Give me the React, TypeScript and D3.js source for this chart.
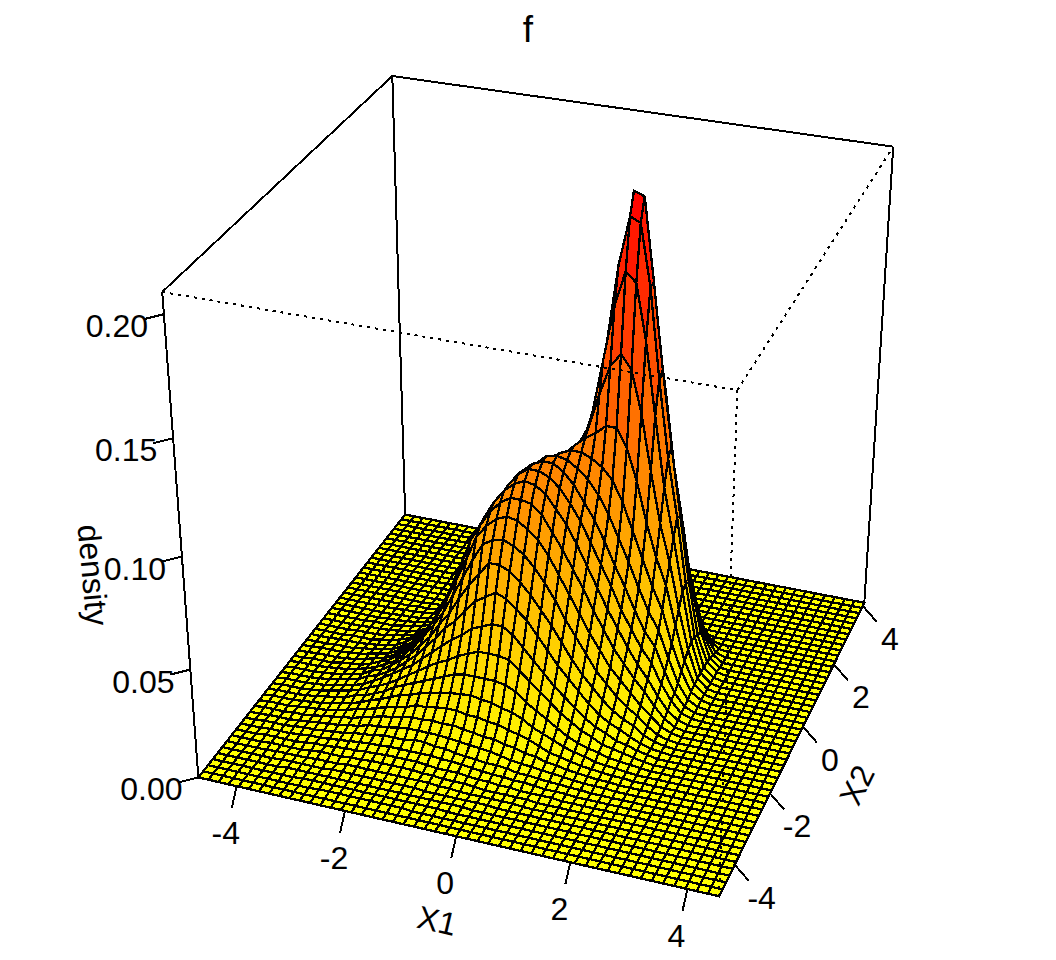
import React from "react";
import * as d3 from "d3";

const title = "f";
const x1Limits = [-4.72, 4.53];
const x2Limits = [-4.84, 4.11];
const zLimits = [0, 0.2087];
const x1Ticks = [-4, -2, 0, 2, 4];
const x2Ticks = [-4, -2, 0, 2, 4];
const zTicks = [0, 0.05, 0.1, 0.15, 0.2];
const gridSize = 50;

// Box calibration: [u, v, w] of each box corner and where it sits in the picture.
const boxCalibration = [
  [0, 0, 0, 198, 776], [1, 0, 0, 720, 897], [1, 1, 0, 864, 602], [0, 1, 0, 405, 516],
  [0, 0, 1, 162, 293], [1, 0, 1, 737, 390], [1, 1, 1, 893, 147], [0, 1, 1, 393, 75],
];

// Density, in thousandths; one row per X2 grid line, one entry per X1 grid line.
// Entries missing at the end of a row are 0.
const densityMilli: number[][] = [
[],
[],
[0,0,0,0,0,0,0,0,0,0,0,.5,.5,.5,.5,.5,.5,.5,.5,.5],
[0,0,0,0,0,0,0,0,0,.5,.5,.5,.5,.5,.5,.5,.5,.5,.5,.5,.5,.5,.5],
[0,0,0,0,0,0,0,.5,.5,.5,.5,.5,.5,.5,.5,.5,.5,.5,.5,.5,.5,.5,.5,.5,.5],
[0,0,0,0,0,0,.5,.5,.5,.5,.5,1,1,1,1,1,1,1,1,1,.5,.5,.5,.5,.5,.5,.5],
[0,0,0,0,0,.5,.5,.5,.5,1,1,1,1.5,1.5,1.5,1.5,1.5,1.5,1.5,1.5,1.5,1,1,.5,.5,.5,.5,.5,.5],
[0,0,0,0,.5,.5,.5,.5,1,1.5,1.5,1.5,2,2,2.5,2.5,2.5,2.5,2.5,2,2,1.5,1.5,1.5,1,.5,.5,.5,.5,.5],
[0,0,0,.5,.5,.5,.5,1,1.5,1.5,2,2.5,2.5,3,3,3.5,3.5,3.5,3.5,3,2.5,2.5,2.5,2,1.5,1.5,1,1,.5,.5,.5,.5],
[0,0,0,.5,.5,.5,1,1.5,1.5,2,2.5,3,3.5,4,4,4.5,4.5,4.5,4.5,4.5,4,4,3.5,3,2.5,2,2,1.5,1.5,1,.5,.5,.5],
[0,0,.5,.5,.5,1,1.5,1.5,2,2.5,3,4,4.5,5,6,6,6,7,7,6,6,5,4.5,4,3.5,3.5,3,2,2,1.5,1,1,.5,.5],
[0,0,.5,.5,.5,1,1.5,2,2.5,3,4,4.5,6,6.5,7,8,8.5,8.5,8.5,8.5,8,7.5,7,6.5,6,5,4,3.5,3,2.5,2,1.5,1,.5,.5,.5],
[0,.5,.5,.5,1,1,1.5,2.5,3,4,4.5,6,7,8.5,9,10,11,11,11.5,11,11.5,10.5,10,9,9,7.5,7,5.5,5,3.5,3,2,1.5,1,.5,.5],
[0,.5,.5,.5,1,1.5,2,2.5,3.5,4.5,6,7,8.5,10,11,12,14,14,15,15.5,15.5,14.5,14.5,13.5,13,11.5,10.5,9,7,5,4,3,2,1.5,1,.5,.5],
[0,.5,.5,.5,1,1.5,2,3,4,5,6.5,8.5,10,12,14,15,17,18,19,20,20.5,21,20,19.5,18,17,15,12,10,8,6,4.5,3.5,2,1.5,1,.5],
[0,.5,.5,.5,1,1.5,2.5,3,4,6,7,9,11,14,16,18,20,22,24,26,27,27,27,27,26,24,20,17,14,11,8,6,4.5,3.5,2,1.5,1,.5],
[0,.5,.5,.5,1,1.5,2.5,3.5,4.5,6,8,10,12,15,18,21,24,27,29,32,34,36,36,36,35,31,27,23,19,15,12,9,7,4.5,3.5,2.5,1.5,.5],
[0,.5,.5,.5,1,1.5,2.5,3.5,4.5,6,8.5,11,14,17,20,24,28,32,36,39,43,45,47,47,44,39,34,29,24,20,16,12,9,7,4.5,3.5,2,1],
[0,.5,.5,.5,1,1.5,2.5,3.5,4.5,7,8.5,11,14,18,22,27,32,38,42,48,53,56,59,57,53,49,43,37,31,26,21,16,12,9,7,4.5,2.5,1,.5],
[0,.5,.5,.5,1,1.5,2.5,3.5,4.5,7,8.5,11.5,15,19,24,29,36,42,50,57,63,69,69,67,63,58,52,46,39,32,26,21,16,12,9,7,3.5,1.5,.5],
[0,.5,.5,.5,1,1.5,2,3,4.5,6,8.5,11,15.5,20,26,32,39,48,57,66,74,77,78,76,73,68,62,55,47,40,33,26,21,16,12,9,5,2,.5],
[0,0,.5,.5,.5,1.5,2,2.5,4,6,8,11.5,15.5,20.5,27,34,43,53,63,74,80,84,86,85,82,78,72,64,56,48,40,33,26,21,16,11,7,3,1],
[0,0,.5,.5,.5,1,1.5,2.5,4,5,7.5,10.5,14.5,21,27,36,45,56,69,77,84,89,92,92,91,87,80,73,65,57,48,40,32,26,20,15,9,4,1],
[0,0,.5,.5,.5,1,1.5,2.5,3.5,4.5,7,10,14.5,20,27,36,47,59,69,78,86,92,96,98,97,94,88,82,74,65,56,47,39,31,24,18,11,5,1.5],
[0,0,0,.5,.5,.5,1.5,2,3,4,6.5,9,13.5,19.5,27,36,47,57,67,76,85,92,98,101,101,99,95,89,82,73,64,55,45,37,29,23,14,7,2,.5],
[0,0,0,.5,.5,.5,1,1.5,2.5,3.5,6,9,13,18,26,35,44,53,63,73,82,91,97,101,103,103,100,95,88,81,72,62,53,43,34,28,17,8,2.5,.5],
[0,0,0,0,.5,.5,.5,1.5,2,3.5,5,7.5,11.5,17,24,31,39,49,58,68,78,87,94,99,103,104,103,100,96,90,82,72,62,51,41,33,21,10,3,.5],
[0,0,0,0,.5,.5,.5,1,2,3,4,7,10.5,15,20,27,34,43,52,62,72,80,88,95,100,103,105,105,103,100,95,86,74,62,50,40,25,13,4,1],
[0,0,0,0,0,.5,.5,1,1.5,2,3.5,5.5,9,12,17,23,29,37,46,55,64,73,82,89,95,100,105,109,112,116,116,108,94,76,61,49,31,15,5,1],
[0,0,0,0,0,.5,.5,.5,1.5,2,3,5,7,10,14,19,24,31,39,47,56,65,74,82,88,96,103,112,127,140,146,140,122,97,74,57,36,18,5,1],
[0,0,0,0,0,0,.5,.5,1,1.5,2.5,3.5,5,8,11,15,20,26,32,40,48,57,65,73,81,90,100,116,140,164,179,175,151,119,88,66,42,19,5,1],
[0,0,0,0,0,0,0,.5,.5,1,2,3,4,6,8,12,16,21,26,33,40,48,56,64,72,82,95,116,146,179,200,198,172,133,99,73,43,19,5,1],
[0,0,0,0,0,0,0,.5,.5,1,1.5,2,3,4.5,6,9,12,16,21,26,33,40,47,55,62,72,86,108,140,175,208.7,207,172,135,102,71,41,17,5,1],
[0,0,0,0,0,0,0,0,.5,.5,1,1.5,2,3.5,4.5,7,9,12,16,21,26,32,39,45,53,62,74,94,122,151,172,172,153,124,90,64,36,16,4,.5],
[0,0,0,0,0,0,0,0,0,.5,.5,1,1.5,2,3.5,4.5,7,9,12,16,21,26,31,37,43,51,62,76,97,119,133,135,124,100,73,51,29,12,3],
[0,0,0,0,0,0,0,0,0,0,.5,.5,1,1.5,2,3.5,4.5,7,9,12,16,20,24,29,34,41,50,61,74,88,99,102,90,73,60,41,22,8,1.5],
[0,0,0,0,0,0,0,0,0,0,.5,.5,.5,1,1.5,2.5,3.5,4.5,7,9,11,15,18,23,28,33,40,49,57,66,73,71,64,51,41,28,14,4,.5],
[0,0,0,0,0,0,0,0,0,0,0,0,.5,.5,1,1.5,2,2.5,3.5,5,7,9,11,14,17,21,25,31,36,42,43,41,36,29,22,14,6,1],
[0,0,0,0,0,0,0,0,0,0,0,0,0,0,.5,.5,1,1,1.5,2,3,4,5,7,8,10,13,15,18,19,19,17,16,12,8,4,1],
[0,0,0,0,0,0,0,0,0,0,0,0,0,0,0,0,0,.5,.5,.5,1,1,1.5,2,2.5,3,4,5,5,5,5,5,4,3,1.5,.5],
[0,0,0,0,0,0,0,0,0,0,0,0,0,0,0,0,0,0,0,0,0,0,0,.5,.5,.5,1,1,1,1,1,1,.5],
];

const FONT = "'Liberation Sans', Arial, sans-serif";
const FS = 32;
const TITLE_FS = 37;
const LW = 2;
const MESH_LW = 2.3;

function solveProjection(rows: number[][]) {
  const A: number[][] = [];
  const b: number[] = [];
  for (const [X, Y, Z, px, py] of rows) {
    const x = px / 1000, y = py / 1000;
    A.push([X, Y, Z, 1, 0, 0, 0, 0, -x * X, -x * Y, -x * Z]); b.push(x);
    A.push([0, 0, 0, 0, X, Y, Z, 1, -y * X, -y * Y, -y * Z]); b.push(y);
  }
  const n = 11;
  const M = d3.range(n).map((r) =>
    d3.range(n + 1).map((c) =>
      c < n ? d3.sum(A, (row) => row[r] * row[c]) : d3.sum(A, (row, k) => row[r] * b[k])
    )
  );
  for (let c = 0; c < n; c++) {
    let piv = c;
    for (let r = c + 1; r < n; r++) if (Math.abs(M[r][c]) > Math.abs(M[piv][c])) piv = r;
    [M[c], M[piv]] = [M[piv], M[c]];
    for (let r = 0; r < n; r++) {
      if (r === c) continue;
      const f = M[r][c] / M[c][c];
      for (let k = c; k <= n; k++) M[r][k] -= f * M[c][k];
    }
  }
  return d3.range(n).map((r) => M[r][n] / M[r][r]);
}

const P = solveProjection(boxCalibration);
const project = (u: number, v: number, w: number): [number, number] => {
  const d = P[8] * u + P[9] * v + P[10] * w + 1;
  return [
    (1000 * (P[0] * u + P[1] * v + P[2] * w + P[3])) / d,
    (1000 * (P[4] * u + P[5] * v + P[6] * w + P[7])) / d,
  ];
};

const uScale = d3.scaleLinear().domain(x1Limits).range([0, 1]);
const vScale = d3.scaleLinear().domain(x2Limits).range([0, 1]);
const wScale = d3.scaleLinear().domain(zLimits).range([0, 1]);
const gridPos = d3.scaleLinear().domain([0, gridSize - 1]).range([0, 1]);
const colour = d3.scaleLinear<string>().domain(zLimits).range(["#ffff00", "#ff0000"]);

const zAt = (i: number, j: number) => ((densityMilli[j] && densityMilli[j][i]) || 0) / 1000;
const surfacePoint = (i: number, j: number) => project(gridPos(i), gridPos(j), wScale(zAt(i, j)));

const line = d3.line();

export default function App() {
  const facets: { d: string; fill: string }[] = [];
  for (let i = 0; i < gridSize - 1; i++) {
    for (let j = gridSize - 2; j >= 0; j--) {
      const pts = [surfacePoint(i, j), surfacePoint(i + 1, j), surfacePoint(i + 1, j + 1), surfacePoint(i, j + 1)];
      const mean = (zAt(i, j) + zAt(i + 1, j) + zAt(i + 1, j + 1) + zAt(i, j + 1)) / 4;
      facets.push({ d: line(pts) + "Z", fill: colour(mean) });
    }
  }
  const corner = (u: number, v: number, w: number) => project(u, v, w);
  const seg = (a: [number, number], b: [number, number], key: string, dash?: string) => (
    <line key={key} x1={a[0]} y1={a[1]} x2={b[0]} y2={b[1]} stroke="#000" strokeWidth={LW}
      strokeDasharray={dash} shapeRendering="crispEdges" />
  );
  const backEdges = [
    seg(corner(0, 1, 1), corner(0, 0, 1), "b1"),
    seg(corner(0, 1, 1), corner(1, 1, 1), "b2"),
    seg(corner(0, 1, 1), corner(0, 1, 0), "b3"),
    seg(corner(1, 1, 1), corner(1, 1, 0), "b4"),
    seg(corner(0, 0, 1), corner(0, 0, 0), "b5"),
    seg(corner(0, 1, 0), corner(0, 0, 0), "b6"),
    seg(corner(0, 1, 0), corner(1, 1, 0), "b7"),
  ];
  const frontEdges = [
    seg(corner(0, 0, 1), corner(1, 0, 1), "f1", "3 5"),
    seg(corner(1, 0, 1), corner(1, 1, 1), "f2", "3 5"),
    seg(corner(1, 0, 1), corner(1, 0, 0), "f3", "3 5"),
  ];
  const text = (key: string, x: number, y: number, s: string, rot = 0, size = FS) => (
    <text key={key} x={0} y={0} transform={`translate(${x},${y}) rotate(${rot})`} textAnchor="middle"
      dominantBaseline="central" fontFamily={FONT} fontSize={size} fill="#000">{s}</text>
  );
  return (
    <svg width={1056} height={960} viewBox="0 0 1056 960"
      style={{ position: "absolute", left: 0, top: 0, background: "#fff" }}>
      {backEdges}
      <g stroke="#000" strokeWidth={MESH_LW} shapeRendering="crispEdges">
        {facets.map((f, k) => <path key={k} d={f.d} fill={f.fill} />)}
      </g>
      {frontEdges}
      {x1Ticks.map((t) => {
        const [x, y] = project(uScale(t), 0, 0);
        return (
          <g key={"x1" + t}>
            {seg([x, y], [x - 5, y + 22], "t")}
            {text("l", x - 11, y + 47, String(t))}
          </g>
        );
      })}
      {x2Ticks.map((t) => {
        const [x, y] = project(1, vScale(t), 0);
        return (
          <g key={"x2" + t}>
            {seg([x, y], [x + 14, y + 16], "t")}
            {text("l", x + 27, y + 33, String(t))}
          </g>
        );
      })}
      {zTicks.map((t) => {
        const [x, y] = project(0, 0, wScale(t));
        return (
          <g key={"z" + t}>
            {seg([x, y], [x - 20, y + 5], "t")}
            {text("l", x - 47, y + 12, d3.format(".2f")(t))}
          </g>
        );
      })}
      {text("title", 528, 29, title, 0, TITLE_FS)}
      {text("xl", 437, 921, "X1", 13)}
      {text("yl", 857, 785, "X2", -64)}
      {text("zl", 93, 575, "density", 85)}
    </svg>
  );
}
